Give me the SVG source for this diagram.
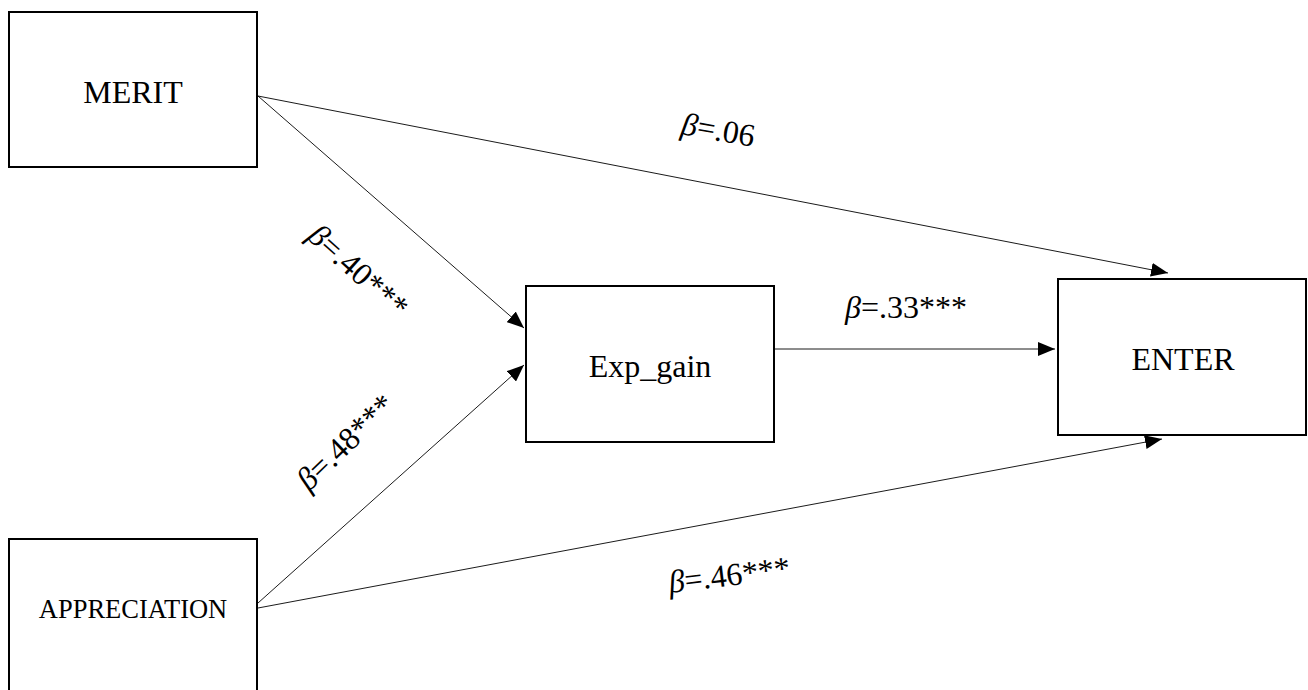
<svg xmlns="http://www.w3.org/2000/svg" width="1308" height="690" viewBox="0 0 1308 690">
<defs>
<style>
.box{fill:#fff;stroke:#000;stroke-width:2}
.lbl{font-family:"Liberation Serif","Times New Roman",serif;fill:#000}
.edge{fill:none;stroke:#000;stroke-width:0.9}
.coef{font-family:"Liberation Serif","Times New Roman",serif;font-size:32px;fill:#000}
</style>
<marker id="arr" markerUnits="userSpaceOnUse" markerWidth="18" markerHeight="14" refX="17" refY="7" orient="auto">
<path d="M0,0 L17,7 L0,14 Z" fill="#000"/>
</marker>
</defs>
<rect width="1308" height="690" fill="#fff"/>
<g id="connectors">
<line class="edge" x1="258" y1="96" x2="1168" y2="273" marker-end="url(#arr)"/>
<line class="edge" x1="258" y1="96" x2="524" y2="328" marker-end="url(#arr)"/>
<line class="edge" x1="258" y1="603" x2="524" y2="365" marker-end="url(#arr)"/>
<line class="edge" x1="258" y1="608" x2="1162" y2="439" marker-end="url(#arr)"/>
<line class="edge" x1="774" y1="349" x2="1055" y2="349" marker-end="url(#arr)"/>
</g>
<g id="merit">
<rect class="box" x="9" y="12" width="248" height="155"/>
<text class="lbl" x="133" y="103" font-size="32" text-anchor="middle">MERIT</text>
</g>
<g id="appreciation">
<rect class="box" x="9" y="539" width="248" height="158"/>
<text class="lbl" x="133" y="618" font-size="26.5" text-anchor="middle">APPRECIATION</text>
</g>
<g id="exp_gain">
<rect class="box" x="526" y="286" width="248" height="156"/>
<text class="lbl" x="650" y="377" font-size="32" text-anchor="middle">Exp_gain</text>
</g>
<g id="enter">
<rect class="box" x="1058" y="279" width="248" height="156"/>
<text class="lbl" x="1183" y="370" font-size="32" text-anchor="middle">ENTER</text>
</g>
<g id="labels">
<text class="coef" transform="translate(680,134) rotate(10)"><tspan font-style="italic">β</tspan>=.06</text>
<text class="coef" x="845" y="318"><tspan font-style="italic">β</tspan>=.33***</text>
<text class="coef" transform="translate(670,593) rotate(-7)"><tspan font-style="italic">β</tspan>=.46***</text>
<text class="coef" transform="translate(306,238) rotate(42)"><tspan font-style="italic">β</tspan>=.40***</text>
<text class="coef" transform="translate(309,492) rotate(-44)"><tspan font-style="italic">β</tspan>=.48***</text>
</g>
</svg>
